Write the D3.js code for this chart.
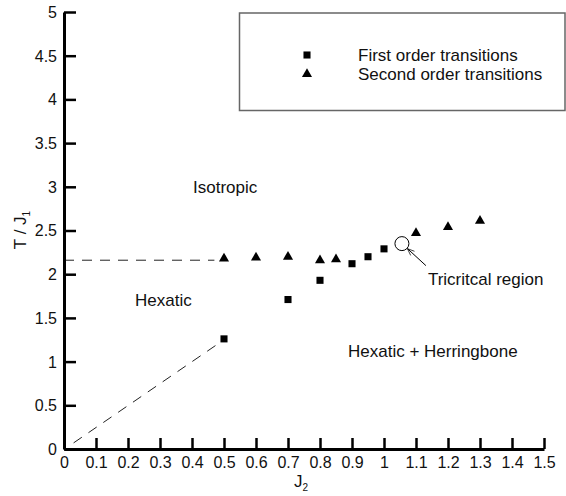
<!DOCTYPE html>
<html>
<head>
<meta charset="utf-8">
<script src="https://cdn.jsdelivr.net/npm/d3@7"></script>
<style>
  body { margin: 0; background: #fff; }
  text { font-family: "Liberation Sans", Arial, sans-serif; fill: #111; }
</style>
</head>
<body>
<div id="chart-area"></div>
<script>
// data
var firstJ2 = [0.5, 0.7, 0.8, 0.9, 0.95, 1.0];
var firstT  = [1.26, 1.71, 1.93, 2.12, 2.20, 2.29];
var secondJ2 = [0.5, 0.6, 0.7, 0.8, 0.85, 1.1, 1.2, 1.3];
var secondT  = [2.18, 2.19, 2.20, 2.16, 2.17, 2.47, 2.54, 2.61];
var xTicks = [0, 0.1, 0.2, 0.3, 0.4, 0.5, 0.6, 0.7, 0.8, 0.9, 1, 1.1, 1.2, 1.3, 1.4, 1.5];
var yTicks = [0, 0.5, 1, 1.5, 2, 2.5, 3, 3.5, 4, 4.5, 5];
var flatLine = [[0, 2.16], [0.47, 2.16]];
var slopeLine = [[0.03, 0.07], [0.48, 1.2]];
var tricritical = [1.056, 2.35];

var margin = { left: 64, right: 22, top: 12, bottom: 47 };
var width = 566 - margin.left - margin.right,
    height = 496 - margin.top - margin.bottom;

var svg = d3.select("#chart-area")
    .append("svg")
        .attr("width", 566)
        .attr("height", 496);

var g = svg.append("g")
    .attr("transform", "translate(" + margin.left + "," + margin.top + ")");

// Scales
var x = d3.scaleLinear().domain([0, 1.5]).range([0, 480]);
var y = d3.scaleLinear().domain([0, 5]).range([height, 0]);

// Legend box
svg.append("rect")
    .attr("x", 239.5)
    .attr("y", 13)
    .attr("width", 325.5)
    .attr("height", 97.5)
    .attr("fill", "none")
    .attr("stroke", "#666")
    .attr("stroke-width", 1.5);

// Dashed guide lines
var guide = d3.line()
    .x(function(d){ return x(d[0]); })
    .y(function(d){ return y(d[1]); });

[flatLine, slopeLine].forEach(function(pts){
    g.append("path")
        .attr("d", guide(pts))
        .attr("fill", "none")
        .attr("stroke", "#222")
        .attr("stroke-width", 1)
        .attr("stroke-dasharray", "10,8");
});

// Axes (ticks pointing inward)
var xAxis = g.append("g")
    .attr("transform", "translate(0," + height + ")")
    .call(d3.axisBottom(x)
        .tickValues(xTicks)
        .tickSizeInner(-11)
        .tickSizeOuter(0)
        .tickPadding(7)
        .tickFormat(function(d){ return +d.toFixed(1); }));

var yAxis = g.append("g")
    .call(d3.axisLeft(y)
        .tickValues(yTicks)
        .tickSizeInner(-12)
        .tickSizeOuter(0)
        .tickPadding(7)
        .tickFormat(function(d){ return +d; }));

[xAxis, yAxis].forEach(function(ax){
    ax.select(".domain").style("stroke", "#000").style("stroke-width", "3px");
    ax.selectAll(".tick line").style("stroke", "#000").style("stroke-width", "2.5px");
    ax.selectAll(".tick text")
        .style("font-size", "16px")
        .style("fill", "#111");
});
yAxis.selectAll(".tick text").attr("dy", "0.34em");
xAxis.selectAll(".tick text").attr("y", 7).attr("dy", "0.75em");

// Axis labels
var yLabel = svg.append("text")
    .attr("transform", "translate(26,230) rotate(-90)")
    .attr("text-anchor", "middle")
    .attr("font-size", "17px");
yLabel.append("tspan").text("T / J");
yLabel.append("tspan").attr("font-size", "10px").attr("dy", "4").text("1");

var xLabel = svg.append("text")
    .attr("x", 294)
    .attr("y", 487)
    .attr("font-size", "17px");
xLabel.append("tspan").text("J");
xLabel.append("tspan").attr("font-size", "10px").attr("dy", "4").text("2");

// Markers
var firstData = firstJ2.map(function(v, i){ return { j2: v, t: firstT[i] }; });
var secondData = secondJ2.map(function(v, i){ return { j2: v, t: secondT[i] }; });

var square = d3.symbol().type(d3.symbolSquare).size(50);
var triangle = d3.symbol().type(d3.symbolTriangle).size(44);

g.selectAll("path.first").data(firstData)
    .enter().append("path")
        .attr("class", "first")
        .attr("d", square)
        .attr("fill", "#000")
        .attr("transform", function(d){ return "translate(" + x(d.j2) + "," + y(d.t) + ")"; });

g.selectAll("path.second").data(secondData)
    .enter().append("path")
        .attr("class", "second")
        .attr("d", triangle)
        .attr("fill", "#000")
        .attr("transform", function(d){ return "translate(" + x(d.j2) + "," + y(d.t) + ")"; });

// Tricritical circle and arrow
var cx = x(tricritical[0]), cy = y(tricritical[1]);
g.append("circle")
    .attr("cx", cx).attr("cy", cy).attr("r", 7)
    .attr("fill", "none").attr("stroke", "#000").attr("stroke-width", 1);

svg.append("defs").append("marker")
    .attr("id", "arrow")
    .attr("viewBox", "0 0 10 10")
    .attr("refX", 10).attr("refY", 5)
    .attr("markerWidth", 9).attr("markerHeight", 7)
    .attr("orient", "auto")
    .append("path")
        .attr("d", "M0,1 L10,5 L0,9")
        .attr("fill", "none")
        .attr("stroke", "#000")
        .attr("stroke-width", 1);

g.append("line")
    .attr("x1", cx + 24).attr("y1", cy + 22)
    .attr("x2", cx + 5.5).attr("y2", cy + 5)
    .attr("stroke", "#000").attr("stroke-width", 1)
    .attr("marker-end", "url(#arrow)");

g.append("text")
    .attr("x", cx + 26).attr("y", cy + 41)
    .attr("font-size", "17px")
    .text("Tricritcal region");

// Region labels
var regions = [
    { label: "Isotropic", x: 193, y: 193 },
    { label: "Hexatic", x: 135, y: 306 },
    { label: "Hexatic + Herringbone", x: 348, y: 357 }
];
svg.selectAll("text.region").data(regions)
    .enter().append("text")
        .attr("class", "region")
        .attr("x", function(d){ return d.x; })
        .attr("y", function(d){ return d.y; })
        .attr("font-size", "17px")
        .text(function(d){ return d.label; });

// Legend entries
var legendItems = [
    { label: "First order transitions", sym: square },
    { label: "Second order transitions", sym: triangle }
];
legendItems.forEach(function(item, i){
    var row = svg.append("g")
        .attr("transform", "translate(307," + (55 + i * 19) + ")");
    row.append("path").attr("d", item.sym).attr("fill", "#000");
    row.append("text")
        .attr("x", 51).attr("y", 6)
        .attr("font-size", "17px")
        .text(item.label);
});
</script>
</body>
</html>
